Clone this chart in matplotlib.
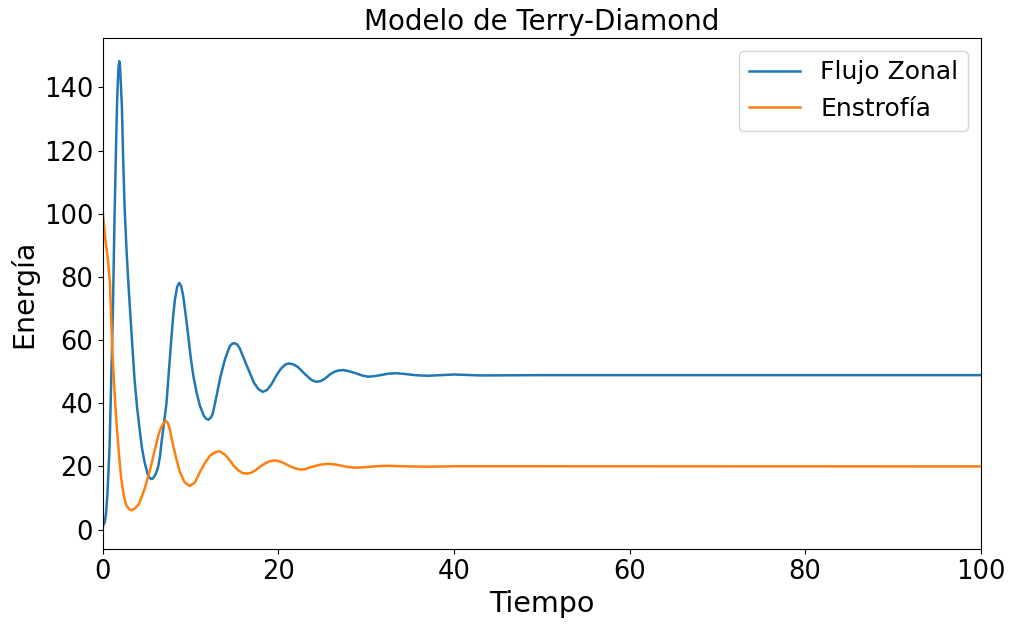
import matplotlib
matplotlib.use("Agg")
import matplotlib.pyplot as plt

# Valores
t_flujo = [0, 0.2, 0.35, 0.5, 0.63, 0.76, 0.95, 1.14, 1.33, 1.5, 1.6, 1.7, 1.78,
           1.86, 1.94, 2.03, 2.16, 2.3, 2.47, 2.7, 2.92, 3.23, 3.6, 3.9, 4.18,
           4.45, 4.75, 5.1, 5.3, 5.5, 5.7, 5.9, 6.1, 6.3, 6.5, 6.68, 6.95, 7.25,
           7.55, 7.82, 8.0, 8.2, 8.45, 8.69, 8.9, 9.15, 9.45, 9.72, 10.0, 10.3,
           10.7, 11.05, 11.5, 11.75, 12.0, 12.25, 12.5, 12.95, 13.4, 13.9, 14.46,
           14.75, 15.0, 15.3, 15.6, 16.3, 17.2, 17.7, 18.2, 18.7, 19.2, 19.8,
           20.3, 20.8, 21.2, 21.7, 22.2, 22.8, 23.3, 23.8, 24.3, 24.8, 25.3,
           25.9, 26.4, 26.9, 27.4, 28.1, 28.8, 29.5, 30.2, 31.0, 31.8, 32.6,
           33.4, 34.3, 35.2, 36.1, 37, 38.5, 40, 43, 50, 100]
flujo = [1.2, 2.2, 5, 10.8, 18, 26.6, 47.6, 70, 100, 122, 134, 142, 146.5,
         148.3, 147, 142, 134, 118, 102, 88, 77, 63.4, 47.6, 38.5, 31.8,
         25.8, 21.3, 17.5, 16.5, 16.0, 16.2, 17.0, 18.2, 20, 23.2, 27.7, 33.5, 40.3,
         51.5, 61.3, 67.5, 72.8, 76.8, 78.1, 77.2, 73.9, 67.5, 61.3, 54.5, 48.7,
         43.0, 39.2, 36.0, 35.1, 34.8, 35.3, 36.5, 42.4, 48.5, 53.9, 58.1,
         58.9, 59.0, 58.6, 57.3, 52.5, 46.5, 44.5, 43.6, 44.2, 46.0, 49.0,
         51.0, 52.3, 52.6, 52.3, 51.5, 49.8, 48.5, 47.3, 46.8, 47.0, 47.8,
         49.2, 50.0, 50.4, 50.5, 50.1, 49.5, 48.8, 48.4, 48.6, 49.0, 49.4,
         49.5, 49.3, 49.0, 48.8, 48.7, 48.9, 49.1, 48.8, 48.9, 48.9]

t_enstrofia = [0, 0.27, 0.57, 0.8, 0.95, 1.1, 1.25, 1.4, 1.6, 1.85, 2.09, 2.4,
               2.66, 3.0, 3.23, 3.6, 4.0, 4.2, 4.45, 4.75, 5.05, 5.4, 5.85, 6.3,
               6.55, 6.8, 7.0, 7.18, 7.35, 7.5, 7.75, 8.0, 8.4, 8.77, 9.3, 9.9,
               10.5, 11.05, 11.6, 12.2, 12.8, 13.3, 13.9, 14.46, 14.9, 15.4,
               15.9, 16.4, 16.9, 17.4, 17.9, 18.5, 19.0, 19.5, 20.0, 20.5,
               21.0, 21.5, 22.0, 22.5, 23.0, 23.5, 24.1, 24.7, 25.2, 25.8,
               26.5, 27.2, 27.9, 28.7, 29.6, 30.5, 31.4, 32.4, 33.5, 35, 37,
               40, 100]
enstrofia = [100, 92, 85.5, 78, 66, 55, 47.6, 40, 31.8, 23, 16, 10.5,
             7.7, 6.4, 6.1, 6.6, 7.7, 8.7, 10.6, 12.9, 15.8, 19.2, 24.6, 29.7,
             31.8, 33.2, 34.0, 34.4, 34.0, 33.0, 30.0, 26.6, 22.0, 18.2, 15.0,
             13.8, 15.0, 18.2, 21.0, 23.4, 24.5, 24.8, 23.7, 21.9, 20.2, 18.8,
             17.9, 17.7, 18.0, 18.8, 19.9, 21.0, 21.6, 21.9, 21.7, 21.2,
             20.5, 19.8, 19.3, 19.0, 19.1, 19.6, 20.1, 20.5, 20.7, 20.8,
             20.6, 20.2, 19.8, 19.6, 19.7, 19.9, 20.1, 20.2, 20.1, 20.0, 19.9,
             20.05, 20]


def main():
    fig = plt.figure(figsize=(10.09, 6.25), dpi=100)
    ax = fig.add_axes([0.102, 0.1216, 0.870, 0.8176])

    ax.plot(t_flujo, flujo, label="Flujo Zonal", linewidth=1.8)
    ax.plot(t_enstrofia, enstrofia, label="Enstrofía", linewidth=1.8)

    ax.set_xlim(0, 100)
    ax.set_title("Modelo de Terry-Diamond", fontsize=20)
    ax.set_xlabel("Tiempo", fontsize=20.5)
    ax.set_ylabel("Energía", fontsize=20.5)
    ax.tick_params(labelsize=18.5)
    ax.legend(fontsize=18, handlelength=2.05)

    fig.savefig("out.png", dpi=100)
    plt.close(fig)


if __name__ == "__main__":
    main()
